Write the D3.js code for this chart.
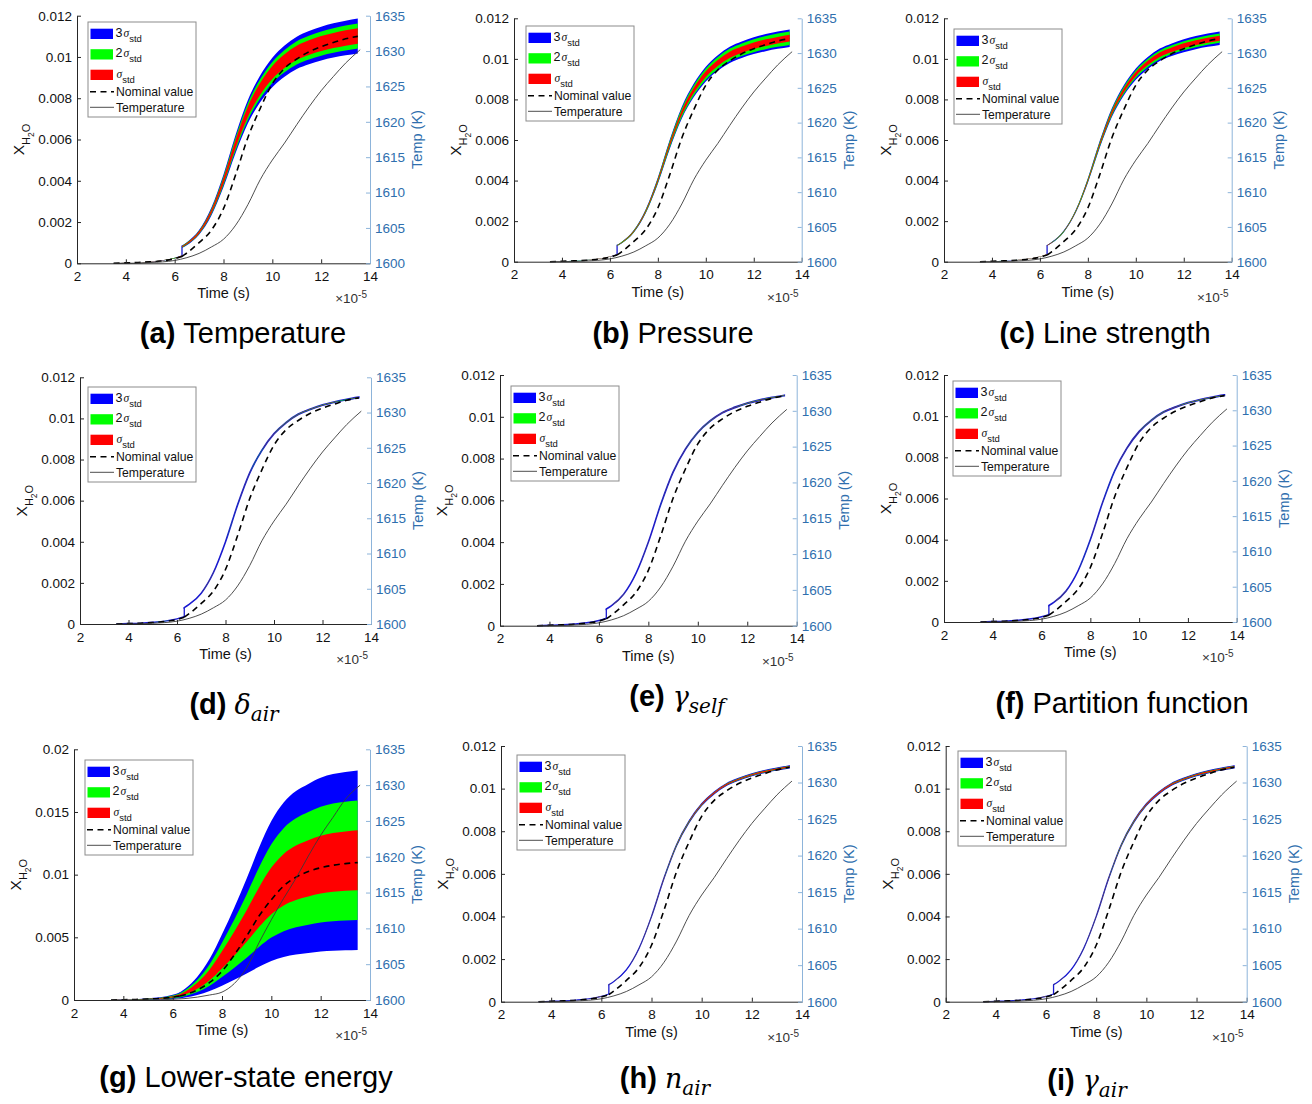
<!DOCTYPE html>
<html>
<head>
<meta charset="utf-8">
<script src="https://cdn.jsdelivr.net/npm/d3@7"></script>
<style>
  body { margin: 0; background: #fff; }
  svg { font-family: "Liberation Sans", Arial, Helvetica, sans-serif; }
</style>
</head>
<body>
<svg id="fig" width="1312" height="1104"></svg>
<script>
// Time (x 1e-5 s). 6.3 is listed twice: the Monte-Carlo curves jump there.
const timeS = [3.5, 4, 4.5, 5, 5.5, 6, 6.3, 6.3, 6.5, 7, 7.5, 8, 8.5, 9, 9.5, 10, 10.5, 11, 11.5, 12, 12.5, 13, 13.5];

// X_H2O, in units of 1e-3
const nominalX = [0, 0.02, 0.04, 0.07, 0.12, 0.22, 0.33, 0.33, 0.5, 1.0, 1.6, 2.65, 4.3, 6.1, 7.5, 8.7, 9.45, 9.9, 10.25, 10.5, 10.7, 10.88, 11.0];
const meanX    = [0, 0.02, 0.04, 0.08, 0.14, 0.25, 0.36, 0.8, 0.95, 1.5, 2.5, 4.0, 5.8, 7.35, 8.45, 9.25, 9.8, 10.2, 10.45, 10.65, 10.8, 10.92, 11.02];
// panel (g) has its own run
const nominalG = [0, 0.02, 0.04, 0.08, 0.13, 0.22, 0.32, 0.32, 0.42, 0.8, 1.4, 2.3, 3.6, 5.1, 6.7, 8.0, 9.1, 9.8, 10.25, 10.55, 10.75, 10.88, 10.96];
const meanG    = [0, 0.02, 0.04, 0.08, 0.13, 0.25, 0.38, 0.38, 0.55, 1.13, 2.0, 3.2, 4.5, 5.9, 7.4, 8.7, 9.6, 10.15, 10.5, 10.8, 10.98, 11.08, 11.15];

// Temperature (K)
const tempTime = [3.5, 4, 5, 6, 6.5, 7, 7.5, 8, 8.5, 9, 9.5, 10, 10.5, 11, 11.5, 12, 12.5, 13, 13.6];
const tempK    = [1600, 1600, 1600.1, 1600.4, 1600.8, 1601.4, 1602.3, 1603.4, 1605.4, 1608.3, 1611.8, 1614.6, 1617.0, 1619.6, 1622.1, 1624.4, 1626.4, 1628.3, 1630.2];
const tempG    = [1600, 1600, 1600, 1600.1, 1600.2, 1600.4, 1600.7, 1601.1, 1602.3, 1604.5, 1608.0, 1611.2, 1614.2, 1617.0, 1620.1, 1623.0, 1625.5, 1628.0, 1630.0];

// relative half-width of the sigma, 2 sigma, 3 sigma bands, per panel (a..i)
const band1 = [0.034, 0.015, 0.011, 0.0005, 0.0005, 0.0005, 0.214, 0.0025, 0.0025];
const band2 = [0.055, 0.030, 0.021, 0.0010, 0.0010, 0.0010, 0.428, 0.0035, 0.0035];
const band3 = [0.077, 0.039, 0.030, 0.0015, 0.0015, 0.0015, 0.642, 0.0045, 0.0045];

const panelLetters = ["(a)", "(b)", "(c)", "(d)", "(e)", "(f)", "(g)", "(h)", "(i)"];
const panelNames   = ["Temperature", "Pressure", "Line strength", "δ", "γ", "Partition function", "Lower-state energy", "n", "γ"];
const panelSubs    = ["", "", "", "air", "self", "", "", "air", "air"];
const yMaxes       = [12, 12, 12, 12, 12, 12, 20, 12, 12];

const xTicks = [2, 4, 6, 8, 10, 12, 14];
const yTicksX = [0, 2, 4, 6, 8, 10, 12];
const yTicksG = [0, 5, 10, 15, 20];
const tempTicks = [1600, 1605, 1610, 1615, 1620, 1625, 1630, 1635];

const legendLabels = ["3", "2", "", "Nominal value", "Temperature"];

// layout: [left, right, top, bottom] of each axes box
const frames = [
  [77, 370, 15.7, 263.3], [514, 801.7, 18.3, 261.7], [944, 1231.7, 18.3, 261.7],
  [80, 371, 377.3, 624], [500, 796.7, 375, 625.7], [944, 1236.7, 375, 622],
  [74, 370, 749.3, 1000], [501, 802, 746, 1001.7], [945.7, 1246.7, 746, 1001.7]
];
const legendAt = [[88, 22], [526, 26], [954, 29], [88, 387], [511, 386], [953, 381], [85, 760], [517, 755], [958, 751]];
const titleAt = [[243, 343], [673, 343], [1105, 343], [234, 714], [677, 706], [1122, 713], [246, 1087], [665, 1088], [1087, 1090]];

const COLOR_AX = "#262626";
const COLOR_RIGHT = "#2f6fae";
const COLOR_RIGHT_LINE = "#8db4da";
const bandColors = ["#0000ff", "#00ff00", "#ff0000"];   // 3σ, 2σ, σ

const svg = d3.select("#fig");

// split a series where the time repeats (the jump at 6.3)
function segments(ts, rows) {
  const out = [[]];
  ts.forEach((t, i) => {
    if (i > 0 && t === ts[i - 1]) out.push([]);
    out[out.length - 1].push(rows[i]);
  });
  return out;
}

panelLetters.forEach((letter, p) => {
  const [L, R, T, B] = frames[p];
  const isG = p === 6;
  const mean = isG ? meanG : meanX;
  const nominal = isG ? nominalG : nominalX;
  const temp = isG ? tempG : tempK;

  const x = d3.scaleLinear().domain([2, 14]).range([L, R]);
  const y = d3.scaleLinear().domain([0, yMaxes[p]]).range([B, T]);
  const yT = d3.scaleLinear().domain([1600, 1635]).range([B, T]);

  const g = svg.append("g");

  // uncertainty bands, widest first
  const rel = [band3[p], band2[p], band1[p]];
  rel.forEach((r, k) => {
    const rows = timeS.map((t, i) => ({t: t, lo: mean[i] * (1 - r), hi: mean[i] * (1 + r)}));
    const area = d3.area()
      .x(d => x(d.t)).y0(d => y(d.lo)).y1(d => y(d.hi))
      .curve(d3.curveMonotoneX);
    const segs = segments(timeS, rows);
    segs.forEach(seg => {
      const path = g.append("path")
        .attr("d", area(seg))
        .attr("fill", bandColors[k]);
      // thin bands: the outline is what shows
      if (k === 0 && p >= 3 && !isG) {
        path.attr("stroke", "#1a1ad0").attr("stroke-width", p >= 7 ? 1.1 : 1.5);
      }
    });
    // step where the curve jumps
    if (k === 0 && segs.length > 1) {
      const a = segs[0][segs[0].length - 1], b = segs[1][0];
      g.append("line")
        .attr("x1", x(a.t)).attr("x2", x(b.t))
        .attr("y1", y(a.lo)).attr("y2", y(b.hi))
        .attr("stroke", "#1a1ad0").attr("stroke-width", 1.3);
    }
  });

  // nominal value
  const line = d3.line().x(d => x(d.t)).y(d => y(d.v)).curve(d3.curveMonotoneX);
  segments(timeS, timeS.map((t, i) => ({t: t, v: nominal[i]}))).forEach(seg => {
    g.append("path")
      .attr("d", line(seg))
      .attr("fill", "none")
      .attr("stroke", "#000")
      .attr("stroke-width", 1.6)
      .attr("stroke-dasharray", "6,4.5");
  });

  // temperature on the right axis
  g.append("path")
    .datum(tempTime.map((t, i) => ({t: t, v: temp[i]})))
    .attr("d", d3.line().x(d => x(d.t)).y(d => yT(d.v)).curve(d3.curveMonotoneX))
    .attr("fill", "none")
    .attr("stroke", "#3a3a3a")
    .attr("stroke-width", 0.9);

  // axes
  const fmt = v => d3.format("~g")(v / 1000);
  const axL = g.append("g")
    .attr("transform", `translate(${L},0)`)
    .call(d3.axisLeft(y).tickValues(isG ? yTicksG : yTicksX).tickFormat(fmt)
      .tickSize(-4).tickSizeOuter(0).tickPadding(5));
  const axB = g.append("g")
    .attr("transform", `translate(0,${B})`)
    .call(d3.axisBottom(x).tickValues(xTicks).tickFormat(d3.format("d"))
      .tickSize(-4).tickSizeOuter(0).tickPadding(8));
  const axR = g.append("g")
    .attr("transform", `translate(${R},0)`)
    .call(d3.axisRight(yT).tickValues(tempTicks).tickFormat(d3.format("d"))
      .tickSize(-4).tickSizeOuter(0).tickPadding(5));

  [axL, axB].forEach(a => {
    a.select(".domain").attr("stroke", COLOR_AX);
    a.selectAll(".tick line").attr("stroke", COLOR_AX);
    a.selectAll(".tick text").attr("fill", "#111")
      .style("font-size", "13.5px").style("font-family", "Liberation Sans, Arial, sans-serif");
  });
  axR.select(".domain").attr("stroke", COLOR_RIGHT_LINE);
  axR.selectAll(".tick line").attr("stroke", COLOR_RIGHT_LINE);
  axR.selectAll(".tick text").attr("fill", COLOR_RIGHT)
    .style("font-size", "13.5px").style("font-family", "Liberation Sans, Arial, sans-serif");

  const midY = (T + B) / 2;

  // axis labels
  g.append("text")
    .attr("x", (L + R) / 2).attr("y", B + 35)
    .attr("text-anchor", "middle")
    .attr("font-size", 14.5).attr("fill", "#111")
    .text("Time (s)");

  g.append("text")
    .attr("transform", `translate(${R + 52},${midY}) rotate(-90)`)
    .attr("text-anchor", "middle")
    .attr("font-size", 14.5).attr("fill", COLOR_RIGHT)
    .text("Temp (K)");

  const yl = g.append("text")
    .attr("transform", `translate(${L - 53},${midY}) rotate(-90)`)
    .attr("text-anchor", "middle")
    .attr("fill", "#111");
  yl.append("tspan").attr("font-size", 15.5).text("X");
  yl.append("tspan").attr("font-size", 11).attr("dy", 6).text("H");
  yl.append("tspan").attr("font-size", 8.5).attr("dy", 4).text("2");
  yl.append("tspan").attr("font-size", 11).attr("dy", -4).text("O");

  const ex = g.append("text")
    .attr("x", R - 3).attr("y", B + 40)
    .attr("text-anchor", "end")
    .attr("fill", "#333");
  ex.append("tspan").attr("font-size", 13.5).text("×10");
  ex.append("tspan").attr("font-size", 10).attr("dy", -5).text("-5");

  // legend
  const [lx, ly] = legendAt[p];
  const lg = g.append("g").attr("transform", `translate(${lx},${ly})`);
  lg.append("rect")
    .attr("width", 108).attr("height", 95)
    .attr("fill", "#fff").attr("stroke", "#8c8c8c").attr("stroke-width", 1);
  bandColors.forEach((c, k) => {
    lg.append("rect")
      .attr("x", 2.5).attr("y", 6.7 + k * 20.5)
      .attr("width", 22.5).attr("height", 10.3)
      .attr("fill", c);
    const t = lg.append("text")
      .attr("x", 27.5).attr("y", 14.7 + k * 20.5)
      .attr("fill", "#111");
    if (legendLabels[k]) t.append("tspan").attr("font-size", 12.5).text(legendLabels[k]);
    t.append("tspan").attr("font-size", 11.5).attr("font-style", "italic")
      .attr("font-family", "Liberation Serif, serif").attr("dx", 1).text("σ");
    t.append("tspan").attr("font-size", 9.5).attr("dy", 5).text("std");
  });
  lg.append("line")
    .attr("x1", 2).attr("x2", 26).attr("y1", 69.7).attr("y2", 69.7)
    .attr("stroke", "#000").attr("stroke-width", 1.6).attr("stroke-dasharray", "6,4.5");
  lg.append("line")
    .attr("x1", 2).attr("x2", 26).attr("y1", 85.3).attr("y2", 85.3)
    .attr("stroke", "#3a3a3a").attr("stroke-width", 0.9);
  lg.append("text").attr("x", 28).attr("y", 74)
    .attr("font-size", 12.2).attr("fill", "#111").text(legendLabels[3]);
  lg.append("text").attr("x", 28).attr("y", 89.6)
    .attr("font-size", 12.2).attr("fill", "#111").text(legendLabels[4]);

  // caption under the panel
  const [tx, ty] = titleAt[p];
  const cap = svg.append("text")
    .attr("x", tx).attr("y", ty)
    .attr("text-anchor", "middle")
    .attr("font-size", 29).attr("fill", "#000");
  cap.append("tspan").attr("font-weight", "bold").text(letter + " ");
  if (panelSubs[p]) {
    cap.append("tspan").attr("font-family", "DejaVu Serif, serif").attr("font-style", "italic")
      .attr("font-size", 27).text(panelNames[p]);
    cap.append("tspan").attr("font-family", "DejaVu Serif, serif").attr("font-style", "italic")
      .attr("font-size", 20).attr("dy", 7).text(panelSubs[p]);
  } else {
    cap.append("tspan").text(panelNames[p]);
  }
});
</script>
</body>
</html>
